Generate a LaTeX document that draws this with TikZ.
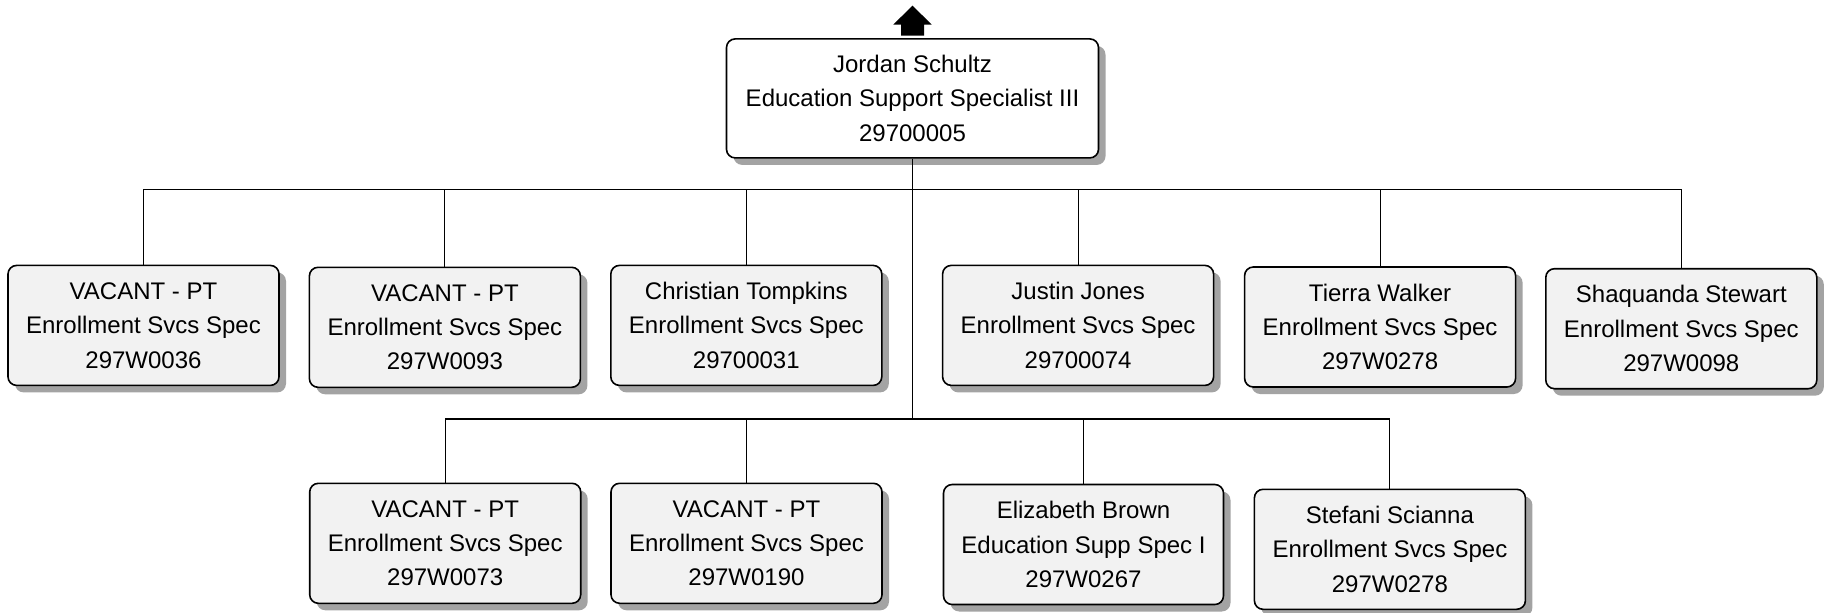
\documentclass[tikz,border=0pt]{standalone}
\usepackage{fontspec}
\setmainfont{Liberation Sans}
\usetikzlibrary{shadows}
\definecolor{boxfill}{HTML}{F2F2F2}
\definecolor{shadowgray}{HTML}{A3A3A3}
\tikzset{
  orgbox/.style={draw=black, line width=1.2pt, rounded corners=6.5pt, fill=boxfill,
    align=center, inner sep=0pt, minimum width=271*0.75pt, minimum height=120*0.75pt,
    font=\fontsize{18}{25.8}\selectfont,
    drop shadow={shadow xshift=5.25pt, shadow yshift=-5.25pt, fill=shadowgray, opacity=1}},
  headbox/.style={orgbox, fill=white, minimum width=372*0.75pt, minimum height=119*0.75pt},
  link/.style={draw=black, line width=0.8pt},
  trunk/.style={draw=black, line width=1.3pt}
}
\begin{document}
\begin{tikzpicture}[x=0.75pt,y=-0.75pt]
\useasboundingbox (0,0) rectangle (1825,612);
% nodes
\node[headbox] (top) at (912.5,98.4) {Jordan Schultz\\Education Support Specialist III\\29700005};
\node[orgbox] (b1) at (143.5,325.4) {VACANT - PT\\Enrollment Svcs Spec\\297W0036};
\node[orgbox] (b2) at (444.9,327.3) {VACANT - PT\\Enrollment Svcs Spec\\297W0093};
\node[orgbox] (b3) at (746.3,325.4) {Christian Tompkins\\Enrollment Svcs Spec\\29700031};
\node[orgbox] (b4) at (1078.1,325.4) {Justin Jones\\Enrollment Svcs Spec\\29700074};
\node[orgbox] (b5) at (1380.1,327.0) {Tierra Walker\\Enrollment Svcs Spec\\297W0278};
\node[orgbox] (b6) at (1681.3,328.7) {Shaquanda Stewart\\Enrollment Svcs Spec\\297W0098};
\node[orgbox] (b7) at (445.2,543.3) {VACANT - PT\\Enrollment Svcs Spec\\297W0073};
\node[orgbox] (b8) at (746.5,543.3) {VACANT - PT\\Enrollment Svcs Spec\\297W0190};
\node[orgbox, minimum width=280*0.75pt] (b9) at (1083.5,544.5) {Elizabeth Brown\\Education Supp Spec I\\297W0267};
\node[orgbox] (b10) at (1389.9,549.3) {Stefani Scianna\\Enrollment Svcs Spec\\297W0278};
% bus coordinates
\coordinate (busA) at (912.5,189.3);
\coordinate (busB) at (912.5,419);
% upper bus
\draw[link] (b1.north |- busA) -- (b6.north |- busA);
\foreach \n in {b1,b2,b3,b4,b5,b6} {\draw[link] (\n.north) -- (\n.north |- busA);}
% lower bus
\draw[link] (b7.north |- busB) -- (b10.north |- busB);
\foreach \n in {b7,b8,b9,b10} {\draw[link] (\n.north) -- (\n.north |- busB);}
% trunk
\draw[trunk] (top.south) -- (busB);
% up arrow
\fill[black] (top.north) ++(-11.5,-2.5) -- ++(0,-11) -- ++(-7.7,0) -- ++(19.2,-19)
  -- ++(19.2,19) -- ++(-7.7,0) -- ++(0,11) -- cycle;
\end{tikzpicture}
\end{document}
